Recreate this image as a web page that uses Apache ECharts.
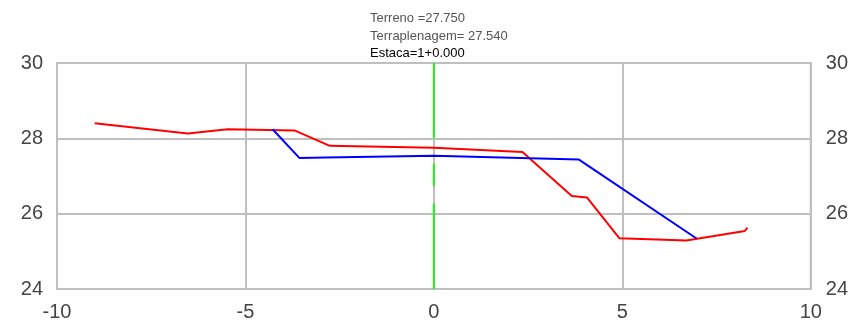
<!DOCTYPE html>
<html>
<head>
<meta charset="utf-8">
<script src="https://cdn.jsdelivr.net/npm/echarts@6/dist/echarts.min.js"></script>
<style>html,body{margin:0;padding:0;background:#fff;}#c{width:851px;height:327px;}</style>
</head>
<body>
<div id="c"></div>
<script>
var terrenoX = [-9.0, -6.53, -5.47, -3.70, -2.76, 0, 2.35, 3.66, 4.06, 4.92, 6.70, 8.25, 8.32];
var terrenoY = [28.40, 28.13, 28.24, 28.21, 27.80, 27.75, 27.64, 26.47, 26.43, 25.35, 25.29, 25.54, 25.63];
var terrapX = [-4.28, -3.57, -2.87, -2.85, 0, 3.84, 6.97];
var terrapY = [28.24, 27.48, 27.49, 27.47, 27.54, 27.44, 25.34];
var estacaX = [0, 0, null, 0, 0, null, 0, 0];
var estacaY = [30, 28.0, null, 27.33, 26.74, null, 26.27, 24];
var xTicks = [-10, -5, 0, 5, 10];
var yTicks = [24, 26, 28, 30];
var infoLines = ['Terreno =27.750', 'Terraplenagem= 27.540', 'Estaca=1+0.000'];

function pairs(xs, ys) {
  return xs.map(function (x, i) { return x === null ? [null, null] : [x, ys[i]]; });
}

var chart = echarts.init(document.getElementById('c'));
var font = 'Liberation Sans, Arial, sans-serif';
var gridColor = '#bfbfbf';
chart.setOption({
  animation: false,
  grid: { left: 57, right: 38, top: 63, bottom: 38, show: true, borderColor: gridColor, borderWidth: 2, backgroundColor: 'transparent' },
  xAxis: {
    type: 'value', min: xTicks[0], max: xTicks[xTicks.length - 1], interval: 5,
    axisLine: { show: false }, axisTick: { show: false },
    splitLine: { show: true, lineStyle: { color: gridColor, width: 2 } },
    axisLabel: { color: '#444', fontSize: 20, fontFamily: font, margin: 13 }
  },
  yAxis: [{
    type: 'value', min: yTicks[0], max: yTicks[yTicks.length - 1], interval: 2, position: 'left',
    axisLine: { show: false }, axisTick: { show: false },
    splitLine: { show: true, lineStyle: { color: gridColor, width: 2 } },
    axisLabel: { color: '#444', fontSize: 20, fontFamily: font, margin: 14 }
  }, {
    type: 'value', min: yTicks[0], max: yTicks[yTicks.length - 1], interval: 2, position: 'right',
    axisLine: { show: false }, axisTick: { show: false }, splitLine: { show: false },
    axisLabel: { color: '#444', fontSize: 20, fontFamily: font, margin: 15 }
  }],
  series: [{
    type: 'line', data: pairs(terrenoX, terrenoY), showSymbol: false, symbol: 'none',
    lineStyle: { color: '#ff0000', width: 2 }, z: 3
  }, {
    type: 'line', data: pairs(terrapX, terrapY), showSymbol: false, symbol: 'none',
    lineStyle: { color: '#0000ff', width: 2 }, z: 4
  }, {
    type: 'line', data: pairs(estacaX, estacaY), showSymbol: false, symbol: 'none', connectNulls: false,
    lineStyle: { color: '#22ee22', width: 2 }, z: 5
  }],
  graphic: [
    { type: 'text', left: 370, top: 12, style: { text: infoLines[0], fill: '#555', font: '13px ' + font } },
    { type: 'text', left: 370, top: 30, style: { text: infoLines[1], fill: '#555', font: '13px ' + font } },
    { type: 'text', left: 370, top: 47, style: { text: infoLines[2], fill: '#000', font: '13px ' + font } }
  ]
});
</script>
</body>
</html>
